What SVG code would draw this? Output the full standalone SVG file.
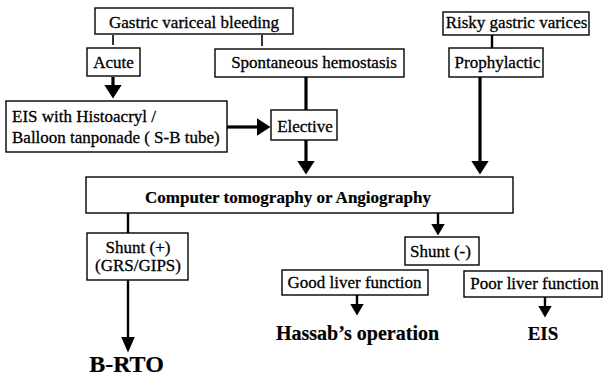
<svg xmlns="http://www.w3.org/2000/svg" width="603" height="379" viewBox="0 0 603 379">
<style>
.box{fill:#fff;stroke:#000;stroke-width:1.4}
.t{font-family:"Liberation Serif","Times New Roman",serif;font-size:17px;fill:#000;stroke:#000;stroke-width:0.3}
.m{text-anchor:middle}
.b{font-weight:bold;stroke-width:0.2}
.c{stroke:#000;fill:none}
.thick{stroke-width:3.2}
.mid{stroke-width:2.4}
.thin{stroke-width:1.6}
</style>
<defs>
<marker id="big" markerUnits="userSpaceOnUse" markerWidth="16" markerHeight="20" refX="0.5" refY="9" orient="auto">
<path d="M0,0 L14,9 L0,18 z" fill="#000"/>
</marker>
<marker id="small" markerUnits="userSpaceOnUse" markerWidth="14" markerHeight="16" refX="0.5" refY="7" orient="auto">
<path d="M0,0 L12,7 L0,14 z" fill="#000"/>
</marker>
<marker id="long" markerUnits="userSpaceOnUse" markerWidth="18" markerHeight="16" refX="0.5" refY="7" orient="auto">
<path d="M0,0 L16,7 L0,14 z" fill="#000"/>
</marker>
</defs>
<g id="connectors">
<line class="c thin" x1="113" y1="35" x2="113" y2="45"/>
<line class="c thin" x1="262" y1="35" x2="262" y2="46"/>
<line class="c mid" x1="492" y1="35" x2="492" y2="48"/>
<line class="c thick" x1="113" y1="77" x2="113" y2="85" marker-end="url(#big)"/>
<line class="c thick" x1="227" y1="127" x2="257" y2="127" marker-end="url(#big)"/>
<line class="c thick" x1="306" y1="77" x2="306" y2="110"/>
<line class="c thick" x1="306" y1="140" x2="306" y2="161" marker-end="url(#big)"/>
<line class="c thick" x1="480" y1="77" x2="480" y2="161" marker-end="url(#big)"/>
<line class="c mid" x1="128" y1="213" x2="128" y2="233"/>
<line class="c mid" x1="128" y1="280" x2="128" y2="337" marker-end="url(#long)"/>
<line class="c mid" x1="438" y1="213" x2="438" y2="224" marker-end="url(#small)"/>
<line class="c mid" x1="357" y1="295" x2="357" y2="304" marker-end="url(#small)"/>
<line class="c mid" x1="545" y1="297" x2="545" y2="306" marker-end="url(#small)"/>
</g>
<g id="gastric"><rect class="box" x="95" y="8" width="198" height="26"/><text class="t m" x="194" y="28">Gastric variceal bleeding</text></g>
<g id="acute"><rect class="box" x="87" y="48" width="53" height="28"/><text class="t m" x="113.5" y="68">Acute</text></g>
<g id="spontaneous"><rect class="box" x="215" y="49" width="189" height="28"/><text class="t m" x="314" y="68">Spontaneous hemostasis</text></g>
<g id="eis-histoacryl"><rect class="box" x="6" y="101" width="221" height="51"/><text class="t" x="12" y="122">EIS with Histoacryl /</text><text class="t" x="12" y="143">Balloon tanponade ( S-B tube)</text></g>
<g id="elective"><rect class="box" x="271" y="110" width="66" height="30"/><text class="t m" x="305" y="132">Elective</text></g>
<g id="risky"><rect class="box" x="443" y="12" width="146" height="23"/><text class="t m" x="516.5" y="28">Risky gastric varices</text></g>
<g id="prophylactic"><rect class="box" x="449" y="48" width="94" height="29"/><text class="t m" x="497.5" y="68">Prophylactic</text></g>
<g id="ct"><rect class="box" x="86" y="177" width="427" height="36"/><text class="t m b" x="288" y="203">Computer tomography or Angiography</text></g>
<g id="shunt-plus"><rect class="box" x="87" y="233" width="101" height="47"/><text class="t m" x="138" y="253">Shunt (+)</text><text class="t m" x="138" y="271">(GRS/GIPS)</text></g>
<g id="shunt-minus"><rect class="box" x="405" y="237" width="74" height="28"/><text class="t m" x="440.5" y="257">Shunt (-)</text></g>
<g id="good"><rect class="box" x="282" y="270" width="146" height="25"/><text class="t m" x="354.5" y="288">Good liver function</text></g>
<g id="poor"><rect class="box" x="464" y="271" width="138" height="26"/><text class="t m" x="534.5" y="289">Poor liver function</text></g>
<g id="hassab"><text class="t m b" x="357.5" y="340" style="font-size:20px">Hassab’s operation</text></g>
<g id="brto"><text class="t m b" x="126.5" y="372" style="font-size:24px">B-RTO</text></g>
<g id="eis-out"><text class="t m b" x="543" y="340" style="font-size:19px">EIS</text></g>
</svg>
